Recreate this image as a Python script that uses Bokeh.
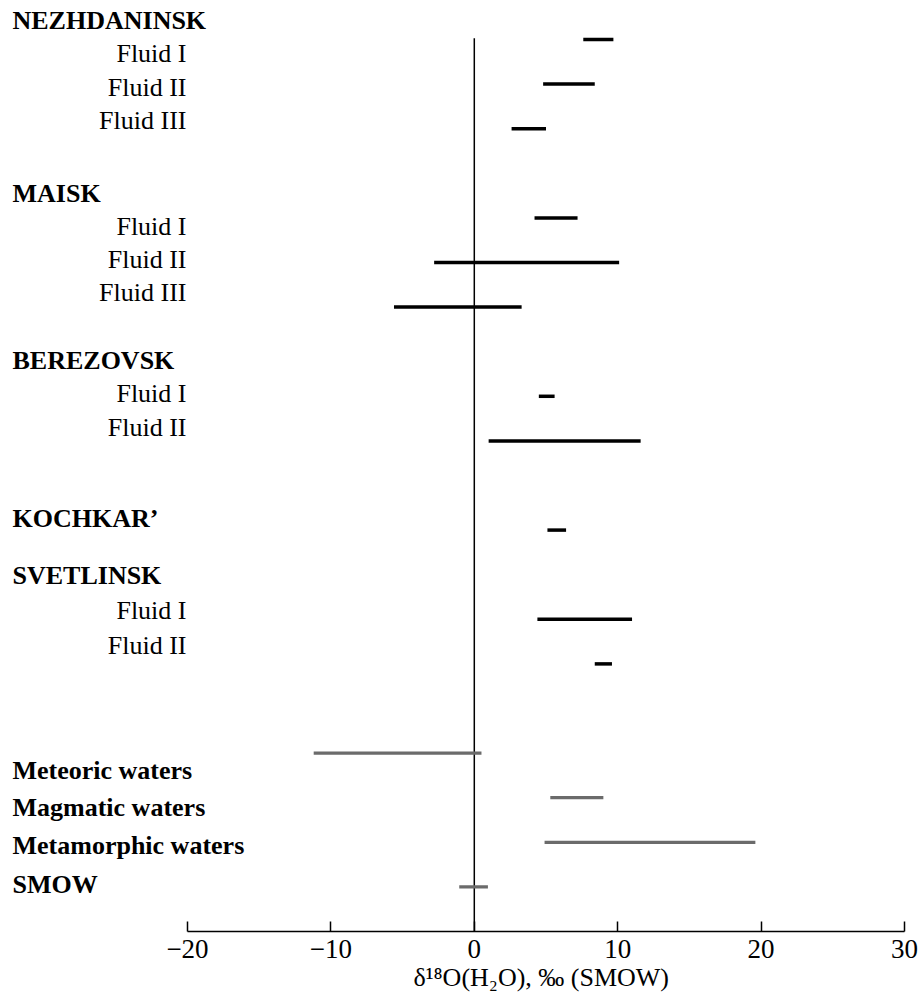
from bokeh.plotting import figure
from bokeh.models import ColumnDataSource, LabelSet, Range1d, FixedTicker, Title
from bokeh.core.properties import value
from bokeh.embed import file_html
from bokeh.resources import INLINE

# ---- data ----
label_text = ["NEZHDANINSK", "Fluid I", "Fluid II", "Fluid III",
              "MAISK", "Fluid I", "Fluid II", "Fluid III",
              "BEREZOVSK", "Fluid I", "Fluid II",
              "KOCHKAR\u2019",
              "SVETLINSK", "Fluid I", "Fluid II",
              "Meteoric waters", "Magmatic waters", "Metamorphic waters", "SMOW"]
label_bold = [1, 0, 0, 0, 1, 0, 0, 0, 1, 0, 0, 1, 1, 0, 0, 1, 1, 1, 1]
label_row = [-0.43, 0.31, 1.08, 1.82,
             3.45, 4.19, 4.93, 5.67,
             7.20, 7.94, 8.70,
             10.74,
             12.02, 12.80, 13.59,
             16.39, 17.22, 18.07, 18.94]

bar_row = [0, 1, 2, 4, 5, 6, 8, 9, 11, 13, 14, 16, 17, 18, 19]
bar_low = [7.6, 4.8, 2.6, 4.2, -2.8, -5.6, 4.5, 1.0, 5.1, 4.4, 8.4, -11.2, 5.3, 4.9, -1.05]
bar_high = [9.7, 8.4, 5.0, 7.2, 10.1, 3.3, 5.6, 11.6, 6.4, 11.0, 9.6, 0.5, 9.0, 19.6, 0.95]
bar_kind = ["fluid"] * 11 + ["water"] * 4

x_ticks = [-20, -10, 0, 10, 20, 30]
x_min, x_max = -20, 30
x_title = "\u03b4\u00b9\u2078O(H\u2082O), \u2030 (SMOW)"

FONT = "Liberation Serif"

# layout: axis spans pixels 187..904 of a 918 px wide frame
W = 918
AX_LEFT, AX_RIGHT = 187, 904
k = (AX_RIGHT - AX_LEFT) / (x_max - x_min)
xr = Range1d(x_min - AX_LEFT / k, x_max + (W - AX_RIGHT) / k)

p = figure(width=W, height=999, output_backend="svg", toolbar_location=None,
           x_range=xr, y_range=Range1d(20.0, -0.874),
           y_axis_location=None, min_border_left=0, min_border_right=0,
           min_border_top=0, min_border_bottom=68)
p.grid.visible = False
p.outline_line_color = None
p.background_fill_color = "white"
p.border_fill_color = "white"

# zero reference line
p.segment(x0=[0], y0=[20.0], x1=[0], y1=[-0.03], line_color="black", line_width=1.5)

fl = [i for i, kd in enumerate(bar_kind) if kd == "fluid"]
wt = [i for i, kd in enumerate(bar_kind) if kd == "water"]
src_f = ColumnDataSource(dict(y=[bar_row[i] for i in fl], x0=[bar_low[i] for i in fl],
                              x1=[bar_high[i] for i in fl]))
src_w = ColumnDataSource(dict(y=[bar_row[i] for i in wt], x0=[bar_low[i] for i in wt],
                              x1=[bar_high[i] for i in wt]))
p.segment(x0="x0", y0="y", x1="x1", y1="y", source=src_w, line_color="#6b6b6b",
          line_width=3.2, line_cap="butt")
p.segment(x0="x0", y0="y", x1="x1", y1="y", source=src_f, line_color="black",
          line_width=3.5, line_cap="butt")

bold_src = ColumnDataSource(dict(t=[t for t, b in zip(label_text, label_bold) if b],
                                 y=[r for r, b in zip(label_row, label_bold) if b]))
norm_src = ColumnDataSource(dict(t=[t for t, b in zip(label_text, label_bold) if not b],
                                 y=[r for r, b in zip(label_row, label_bold) if not b]))
p.add_layout(LabelSet(x=12, y="y", text="t", source=bold_src, x_units="screen",
                      text_font=value(FONT), text_font_style="bold",
                      text_font_size="26px", text_align="left", text_baseline="middle",
                      text_color="black"))
p.add_layout(LabelSet(x=186, y="y", text="t", source=norm_src, x_units="screen",
                      text_font=value(FONT), text_font_style="normal",
                      text_font_size="26px", text_align="right", text_baseline="middle",
                      text_color="black"))

ax = p.xaxis[0]
ax.bounds = (x_min, x_max)
ax.ticker = FixedTicker(ticks=x_ticks)
ax.major_label_overrides = {t: (("\u2212" + str(-t)) if t < 0 else str(t)) for t in x_ticks}
ax.major_tick_in = 10
ax.major_tick_out = 0
ax.minor_tick_line_color = None
ax.axis_line_width = 1.5
ax.major_tick_line_width = 1.5
ax.axis_line_color = "black"
ax.major_tick_line_color = "black"
ax.major_label_text_font = FONT
ax.major_label_text_font_size = "27px"
ax.major_label_text_color = "black"
ax.major_label_standoff = 8

# axis title centred under the axis (not the full-width frame)
p.add_layout(Title(text=x_title, align="left", offset=413, text_font=FONT,
                   text_font_style="normal", text_font_size="26px",
                   text_color="black", standoff=0), "below")

open("out.html", "w").write(file_html(p, INLINE))
